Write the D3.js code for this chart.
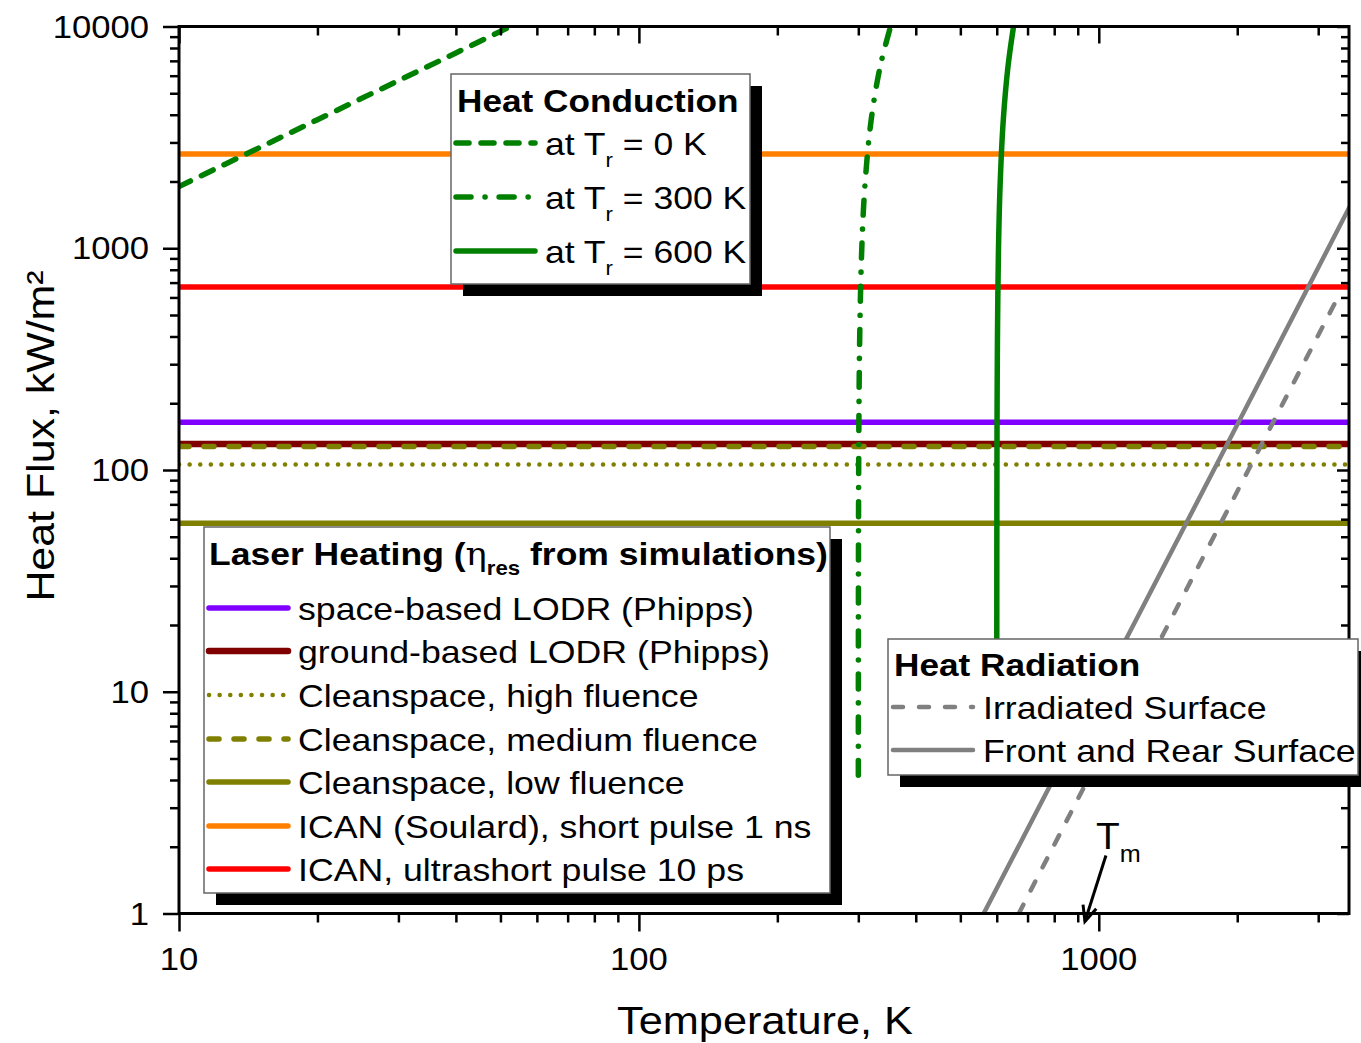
<!DOCTYPE html>
<html>
<head>
<meta charset="utf-8">
<script src="https://cdn.jsdelivr.net/npm/d3@7"></script>
<style>
  html, body { margin: 0; padding: 0; background: #fff; }
  svg { display: block; }
  text { font-family: "Liberation Sans", Arial, sans-serif; fill: #000; }
</style>
</head>
<body>
<svg id="chart" width="1361" height="1043"></svg>
<script>
// ---- axis ticks ----
const temperatureTicks = [10, 100, 1000];
const fluxTicks = [1, 10, 100, 1000, 10000];

// ---- laser heating flux levels (kW/m²), independent of temperature ----
const laserLabels = [
  "space-based LODR (Phipps)",
  "ground-based LODR (Phipps)",
  "Cleanspace, high fluence",
  "Cleanspace, medium fluence",
  "Cleanspace, low fluence",
  "ICAN (Soulard), short pulse 1 ns",
  "ICAN, ultrashort pulse 10 ps"
];
const laserFlux = [164, 131, 106, 127.5, 57.5, 2660, 668];

// ---- heat conduction, reference temperature T_r ----
const condLabels = ["0 K", "300 K", "600 K"];
const condTr0Temp = [10, 15, 20, 30, 40, 52.6];
const condTr0Flux = [1900, 2850, 3800, 5700, 7600, 10000];
const condTr300Temp = [300.022, 300.05, 300.1, 300.2, 300.5, 301, 302, 305, 310, 320, 335, 352.6];
const condTr300Flux = [4.2, 9.5, 19, 38, 95, 190, 380, 950, 1900, 3800, 6650, 10000];
const condTr600Temp = [600.022, 600.05, 600.1, 600.2, 600.5, 601, 602, 605, 610, 620, 635, 652.6];
const condTr600Flux = [4.2, 9.5, 19, 38, 95, 190, 380, 950, 1900, 3800, 6650, 10000];

// ---- heat radiation ----
const radLabels = ["Irradiated Surface", "Front and Rear Surface"];
const radIrrTemp = [670, 1000, 2000, 3350];
const radIrrFlux = [1, 5, 80, 630];
const radBothTemp = [562, 1000, 2000, 3500];
const radBothFlux = [1, 10, 160, 1520];

// melting temperature marker
const meltingTemp = 933;

// ---------------------------------------------------------------
const svg = d3.select("#chart");
const plot = { left: 179, right: 1349, top: 26.5, bottom: 913.5 };

const x = d3.scaleLog().domain([10, 3500]).range([plot.left, plot.right]);
const y = d3.scaleLog().domain([1, 10000]).range([plot.bottom, plot.top]);

// text with a slight horizontal stretch
function stext(parent, px, py, sx, size, anchor, weight) {
  return parent.append("text")
    .attr("transform", `translate(${px},${py}) scale(${sx},1)`)
    .attr("font-size", size)
    .attr("text-anchor", anchor || "start")
    .attr("font-weight", weight || "normal");
}

const styles = {
  laser: [
    { color: "#8000ff", width: 5.5, dash: null },
    { color: "#800000", width: 6.5, dash: null },
    { color: "#808000", width: 4.5, dash: "0.1 10.5" },
    { color: "#808000", width: 5.5, dash: "10 15" },
    { color: "#808000", width: 5.5, dash: null },
    { color: "#ff8000", width: 5.5, dash: null },
    { color: "#ff0000", width: 5.5, dash: null }
  ],
  cond: [
    { color: "#008000", width: 5.5, dash: "13 12" },
    { color: "#008000", width: 5.5, dash: "15 14 0.1 14" },
    { color: "#008000", width: 5.5, dash: null }
  ],
  rad: [
    { color: "#808080", width: 4.5, dash: "10 16" },
    { color: "#808080", width: 4.5, dash: null }
  ]
};

function applyStyle(sel, st) {
  sel.attr("fill", "none")
    .attr("stroke", st.color)
    .attr("stroke-width", st.width)
    .attr("stroke-linecap", "round")
    .attr("stroke-dasharray", st.dash);
}

// clip to plot area
svg.append("defs").append("clipPath").attr("id", "plotClip")
  .append("rect")
  .attr("x", plot.left).attr("y", plot.top)
  .attr("width", plot.right - plot.left).attr("height", plot.bottom - plot.top);

const marks = svg.append("g").attr("clip-path", "url(#plotClip)");

// laser heating levels
laserFlux.forEach((q, i) => {
  const line = marks.append("line")
    .attr("x1", x.range()[0]).attr("x2", x.range()[1])
    .attr("y1", y(q)).attr("y2", y(q));
  applyStyle(line, styles.laser[i]);
  line.attr("stroke-linecap", styles.laser[i].dash ? "round" : "butt");
});

// curves
const lineGen = d3.line().x(d => x(d[0])).y(d => y(d[1])).curve(d3.curveCatmullRom.alpha(0.5));
const zipSeries = (t, q) => t.map((v, i) => [v, q[i]]);

const condSeries = [
  zipSeries(condTr0Temp, condTr0Flux),
  zipSeries(condTr300Temp, condTr300Flux),
  zipSeries(condTr600Temp, condTr600Flux)
];
condSeries.forEach((s, i) => applyStyle(marks.append("path").attr("d", lineGen(s)), styles.cond[i]));

const radSeries = [
  zipSeries(radIrrTemp, radIrrFlux),
  zipSeries(radBothTemp, radBothFlux)
];
radSeries.forEach((s, i) => applyStyle(marks.append("path").attr("d", lineGen(s)), styles.rad[i]));

// ---- axes ----
const majorX = temperatureTicks;
const minorX = x.ticks().filter(t => !majorX.includes(t));
const majorY = fluxTicks;
const minorY = y.ticks().filter(t => !majorY.includes(t));

function axisGroup(axis, tx, ty) {
  const g = svg.append("g").attr("transform", `translate(${tx},${ty})`).call(axis);
  g.select(".domain").remove();
  g.selectAll(".tick line").attr("stroke", "#000").attr("stroke-width", 2.5);
  g.selectAll(".tick text").remove();
  return g;
}
// bottom (outward)
axisGroup(d3.axisBottom(x).tickValues(majorX).tickSize(18).tickFormat(""), 0, plot.bottom);
axisGroup(d3.axisBottom(x).tickValues(minorX).tickSize(9).tickFormat(""), 0, plot.bottom);
// top (inward)
axisGroup(d3.axisBottom(x).tickValues(majorX).tickSize(17).tickFormat(""), 0, plot.top);
axisGroup(d3.axisBottom(x).tickValues(minorX).tickSize(9).tickFormat(""), 0, plot.top);
// left (outward)
axisGroup(d3.axisLeft(y).tickValues(majorY).tickSize(16).tickFormat(""), plot.left, 0);
axisGroup(d3.axisLeft(y).tickValues(minorY).tickSize(9).tickFormat(""), plot.left, 0);
// right (inward)
axisGroup(d3.axisLeft(y).tickValues(majorY).tickSize(12).tickFormat(""), plot.right, 0);
axisGroup(d3.axisLeft(y).tickValues(minorY).tickSize(8).tickFormat(""), plot.right, 0);

// frame
svg.append("rect")
  .attr("x", plot.left).attr("y", plot.top)
  .attr("width", plot.right - plot.left).attr("height", plot.bottom - plot.top)
  .attr("fill", "none").attr("stroke", "#000").attr("stroke-width", 3);

// tick labels
majorX.forEach(t => stext(svg, x(t), 970, 1.1, 31.5, "middle").text(t));
majorY.forEach(t => stext(svg, 149, y(t) + 11, 1.1, 31.5, "end").text(t));

// axis titles
stext(svg, 765, 1034, 1.11, 39, "middle").text("Temperature, K");
svg.append("text")
  .attr("transform", `translate(54,436) rotate(-90) scale(1.1,1)`)
  .attr("font-size", 39).attr("text-anchor", "middle")
  .text("Heat Flux, kW/m²");

// ---- legends ----
function legendBox(bx, by, bw, bh) {
  const g = svg.append("g");
  g.append("rect").attr("x", bx + 12).attr("y", by + 12).attr("width", bw).attr("height", bh).attr("fill", "#000");
  g.append("rect").attr("x", bx).attr("y", by).attr("width", bw).attr("height", bh)
    .attr("fill", "#fff").attr("stroke", "#666").attr("stroke-width", 1.5);
  return g;
}
function sample(g, x1, x2, yy, st) {
  const l = g.append("line").attr("x1", x1).attr("x2", x2).attr("y1", yy).attr("y2", yy);
  applyStyle(l, st);
}

// Heat Conduction
{
  const g = legendBox(451, 74, 299, 210);
  stext(g, 457, 112, 1.1, 32, "start", "bold").text("Heat Conduction");
  const rowsY = [143, 197, 251];
  condLabels.forEach((lab, i) => {
    sample(g, 456, 535, rowsY[i], styles.cond[i]);
    const t = stext(g, 545, rowsY[i] + 12, 1.11, 32, "start");
    t.append("tspan").text("at T");
    t.append("tspan").attr("font-size", 20).attr("dy", 12).text("r");
    t.append("tspan").attr("dy", -12).text(" = " + lab);
  });
}

// Laser Heating
{
  const g = legendBox(204, 527, 626, 366);
  const t = stext(g, 209, 565, 1.11, 32, "start", "bold");
  t.append("tspan").text("Laser Heating (");
  t.append("tspan").attr("font-weight", "normal").attr("font-family", "'DejaVu Serif', serif").text("η");
  t.append("tspan").attr("font-size", 20).attr("dy", 10).text("res");
  t.append("tspan").attr("dy", -10).text(" from simulations)");
  const rowsY = [608, 651, 695, 739, 782, 826, 869];
  laserLabels.forEach((lab, i) => {
    sample(g, 209, 288, rowsY[i], styles.laser[i]);
    stext(g, 298, rowsY[i] + 12, 1.115, 32, "start").text(lab);
  });
}

// Heat Radiation
{
  const g = legendBox(888, 639, 470, 136);
  stext(g, 894, 676, 1.1, 32, "start", "bold").text("Heat Radiation");
  const rowsY = [707, 750];
  radLabels.forEach((lab, i) => {
    sample(g, 893, 973, rowsY[i], styles.rad[i]);
    stext(g, 983, rowsY[i] + 12, 1.115, 32, "start").text(lab);
  });
}

// ---- melting point marker ----
{
  const tipX = x(meltingTemp), tipY = plot.bottom + 8;
  const g = svg.append("g");
  const t = stext(g, 1096, 849, 1.05, 37, "start");
  t.append("tspan").text("T");
  t.append("tspan").attr("font-size", 24).attr("dy", 13).text("m");
  const sx = tipX + 21, sy = tipY - 66;
  g.append("line").attr("x1", sx).attr("y1", sy).attr("x2", tipX).attr("y2", tipY)
    .attr("stroke", "#000").attr("stroke-width", 3);
  const ang = Math.atan2(tipY - sy, tipX - sx);
  const L = 17, spread = 0.42;
  const p1 = [tipX - L * Math.cos(ang - spread), tipY - L * Math.sin(ang - spread)];
  const p2 = [tipX - L * Math.cos(ang + spread), tipY - L * Math.sin(ang + spread)];
  g.append("path")
    .attr("d", `M${p1[0]},${p1[1]}L${tipX},${tipY}L${p2[0]},${p2[1]}`)
    .attr("fill", "none").attr("stroke", "#000").attr("stroke-width", 3)
    .attr("stroke-linejoin", "miter");
}
</script>
</body>
</html>
